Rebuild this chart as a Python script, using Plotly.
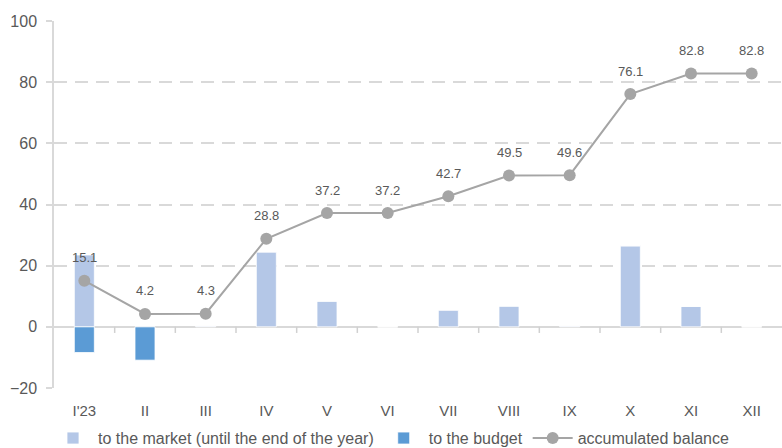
import plotly.graph_objects as go

# Monthly flows and running balance
months = ["I'23", "II", "III", "IV", "V", "VI", "VII", "VIII", "IX", "X", "XI", "XII"]
to_market = [23.5, 0.0, 0.3, 24.5, 8.4, 0.0, 5.5, 6.8, 0.3, 26.5, 6.7, 0.0]
to_budget = [-8.4, -10.9, 0.0, 0.0, 0.0, 0.0, 0.0, 0.0, 0.0, 0.0, 0.0, 0.0]
balance = [15.1, 4.2, 4.3, 28.8, 37.2, 37.2, 42.7, 49.5, 49.6, 76.1, 82.8, 82.8]
y_ticks = [-20, 0, 20, 40, 60, 80, 100]

FONT = "Liberation Sans, Arial, sans-serif"
TEXT = "#595959"
GRID = "#D9D9D9"

fig = go.Figure()
fig.add_trace(go.Bar(
    x=months, y=to_market, name="to the market (until the end of the year)",
    marker=dict(color="#B4C7E7", line=dict(color="#FFFFFF", width=0.8)),
))
fig.add_trace(go.Bar(
    x=months, y=to_budget, name="to the budget",
    marker=dict(color="#5B9BD5", line=dict(color="#FFFFFF", width=0.8)),
))
fig.add_trace(go.Scatter(
    x=months, y=balance, name="accumulated balance", mode="lines+markers",
    line=dict(color="#A5A5A5", width=2),
    marker=dict(color="#A5A5A5", size=12),
))

for m, v in zip(months, balance):
    fig.add_annotation(x=m, y=v, text=f"{v:.1f}", showarrow=False, yshift=23,
                       font=dict(family=FONT, size=13, color=TEXT))

# category separators hanging just below the zero line
for i in range(len(months) - 1):
    fig.add_shape(type="line", xref="x", yref="y", x0=i + 0.5, x1=i + 0.5,
                  y0=0, y1=-2, line=dict(color="#D0D0D0", width=1.5),
                  layer="above")

fig.update_layout(
    width=782, height=448,
    margin=dict(l=54, r=0, t=21, b=60),
    paper_bgcolor="white", plot_bgcolor="white",
    barmode="relative", bargap=0.67,
    font=dict(family=FONT, color=TEXT),
    xaxis=dict(
        type="category", range=[-0.5, 11.5], showgrid=False, zeroline=False,
        showline=False, ticks="", ticklabelstandoff=12,
        tickfont=dict(size=15, color=TEXT),
    ),
    yaxis=dict(
        range=[-20, 100], tickvals=y_ticks, showgrid=True, gridcolor=GRID,
        gridwidth=1.5, griddash="13px,8px", zeroline=True, zerolinecolor=GRID,
        zerolinewidth=1.5, showline=True, linecolor=GRID, linewidth=1.5,
        ticks="outside", ticklen=6, tickcolor=GRID, tickwidth=1.5,
        ticklabelstandoff=6, tickfont=dict(size=16, color=TEXT),
    ),
    legend=dict(
        orientation="h", xref="container", yref="container",
        x=0.50, xanchor="center", y=0.022, yanchor="middle",
        font=dict(size=16, color=TEXT), itemwidth=40, tracegroupgap=0,
    ),
    showlegend=True,
)

fig.write_html("out.html")
